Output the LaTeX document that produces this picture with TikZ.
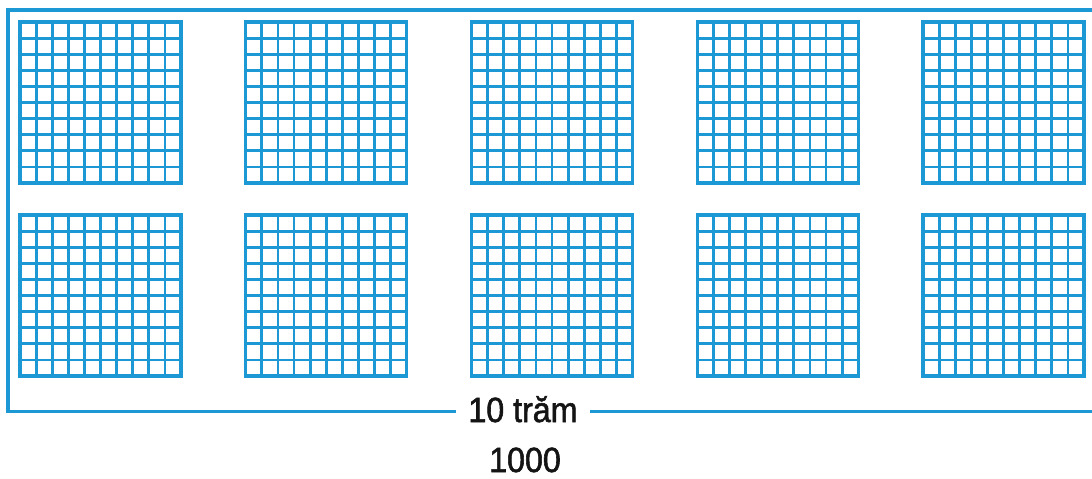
\documentclass[tikz,border=0pt]{standalone}
\usepackage{fontspec}
\setmainfont[FakeStretch=0.92,FakeBold=1.6]{Liberation Sans}
\definecolor{gblue}{RGB}{28,152,212}
\definecolor{ink}{RGB}{20,20,20}
\begin{document}
\begin{tikzpicture}[x=1pt,y=-1pt,
  gridline/.style={gblue,line width=2.8pt},
  gridframe/.style={gblue,line width=3.2pt},
  frameline/.style={gblue,line width=3.6pt},
  lbl/.style={font=\fontsize{35}{40}\selectfont,text=ink,inner xsep=12pt,inner ysep=0pt,anchor=base}]
\clip (0,0) rectangle (1092,479);
\fill[white] (0,0) rectangle (1092,479);
\foreach \c in {0,...,4} {
  \foreach \r in {0,1} {
    \pgfmathsetmacro\xo{20+225.75*\c}
    \pgfmathsetmacro\yo{22+193*\r}
    \foreach \i in {1,...,9} {
      \draw[gridline] (\xo+16.1*\i,\yo) -- (\xo+16.1*\i,\yo+161);
      \draw[gridline] (\xo,\yo+16.1*\i) -- (\xo+161,\yo+16.1*\i);
    }
    \draw[gridframe] (\xo,\yo) rectangle +(161,161);
  }
}
\node[lbl] (tram) at (523,422) {10 trăm};
\node[lbl,inner xsep=0pt] (num) at (525,472) {1000};
\coordinate (tr) at (1100,10);
\coordinate (tl) at (8,10);
\coordinate (bl) at (8,411.5);
\coordinate (br) at (1100,411.5);
\draw[frameline] (tr) -- (tl) -- (bl) -- (bl -| tram.west);
\draw[frameline] (bl -| tram.east) -- (br);
\end{tikzpicture}
\end{document}
